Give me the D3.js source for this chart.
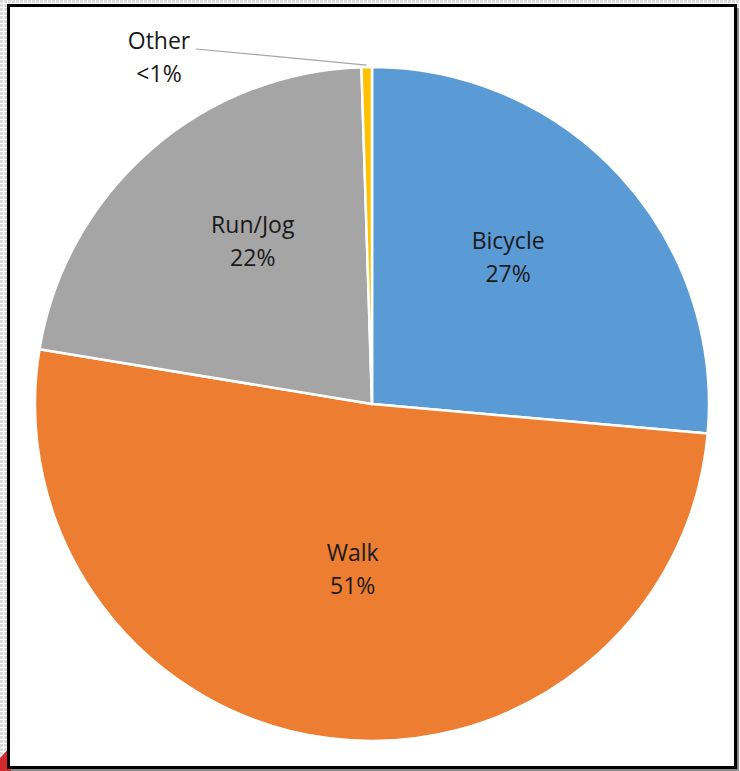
<!DOCTYPE html>
<html>
<head>
<meta charset="utf-8">
<script src="https://cdn.jsdelivr.net/npm/d3@7"></script>
<style>
  body { margin: 0; }
  svg { display: block; }
</style>
</head>
<body>
<div id="chart"></div>
<script>
// data
const categories = ["Bicycle", "Walk", "Run/Jog", "Other"]
const shares = [26.4, 51.2, 21.9, 0.5]
const labels = ["27%", "51%", "22%", "<1%"]
const colors = ["#5b9bd5", "#ed7d31", "#a5a5a5", "#ffc000"]

const width = 740
const height = 771
const cx = 372
const cy = 404
const radius = 337
const fontSize = 23

const svg = d3.select("#chart").append("svg")
              .attr("width", width)
              .attr("height", height)

// checkered backdrop outside the frame
const defs = svg.append("defs")
const pat = defs.append("pattern")
                .attr("id", "checks")
                .attr("width", 4)
                .attr("height", 4)
                .attr("patternUnits", "userSpaceOnUse")
pat.append("rect").attr("width", 4).attr("height", 4).attr("fill", "#ffffff")
pat.append("rect").attr("width", 3).attr("height", 3).attr("fill", "#dadada")
svg.append("rect")
   .attr("width", width)
   .attr("height", height)
   .attr("fill", "url(#checks)")

// red corner bit bottom-left
svg.append("path")
   .attr("d", "M0,771 L0,758 L12,745 L22,771 Z")
   .attr("fill", "#d42a2f")

// frame with shadow
svg.append("rect")
   .attr("x", 11).attr("y", 8)
   .attr("width", 728).attr("height", 763)
   .attr("fill", "#8a8a8a")
svg.append("rect")
   .attr("x", 8.5).attr("y", 5.5)
   .attr("width", 727).attr("height", 762)
   .attr("fill", "#ffffff")
   .attr("stroke", "#000")
   .attr("stroke-width", 3)

// pie
const pie = d3.pie().sort(null).value(d => d)
const arcs = pie(shares)
const arc = d3.arc().innerRadius(0).outerRadius(radius)

const chart = svg.append("g")
                 .attr("transform", `translate(${cx}, ${cy})`)

chart.selectAll(".slice")
     .data(arcs)
     .join("path")
     .attr("class", "slice")
     .attr("d", arc)
     .attr("fill", (d, i) => colors[i])
     .attr("stroke", "#ffffff")
     .attr("stroke-width", 2.5)
     .attr("stroke-linejoin", "round")

// labels inside slices
const labelArc = d3.arc().innerRadius(radius * 0.6).outerRadius(radius * 0.6)
const inside = arcs.slice(0, 3)
const nudges = [[-13, -10], [6, -36], [14, -11]]

function twoLines(sel, i) {
    sel.append("tspan")
       .attr("x", 0).attr("y", -8)
       .text(categories[i])
    sel.append("tspan")
       .attr("x", 0).attr("y", 25)
       .text(labels[i])
}

chart.selectAll(".label")
     .data(inside)
     .join("text")
     .attr("class", "label")
     .attr("transform", (d, i) => {
         const [x, y] = labelArc.centroid(d)
         return `translate(${x + nudges[i][0]}, ${y + nudges[i][1]})`
     })
     .attr("text-anchor", "middle")
     .attr("font-family", "'Open Sans', sans-serif")
     .attr("font-size", fontSize + "px")
     .attr("fill", "#1a1a1a")
     .each(function (d, i) { twoLines(d3.select(this), i) })

// Other: outside label with leader line
const other = arcs[3]
const midA = (other.startAngle + other.endAngle) / 2
const edge = [Math.sin(midA) * (radius + 2), -Math.cos(midA) * (radius + 2)]
const labelPos = [159 - cx, 57 - cy]
chart.append("polyline")
     .attr("points", [[labelPos[0] + 37, labelPos[1] - 8], edge].map(p => p.join(",")).join(" "))
     .attr("fill", "none")
     .attr("stroke", "#a6a6a6")
     .attr("stroke-width", 1.2)
chart.append("text")
     .attr("transform", `translate(${labelPos[0]}, ${labelPos[1]})`)
     .attr("text-anchor", "middle")
     .attr("font-family", "'Open Sans', sans-serif")
     .attr("font-size", fontSize + "px")
     .attr("fill", "#1a1a1a")
     .call(sel => twoLines(sel, 3))
</script>
</body>
</html>
